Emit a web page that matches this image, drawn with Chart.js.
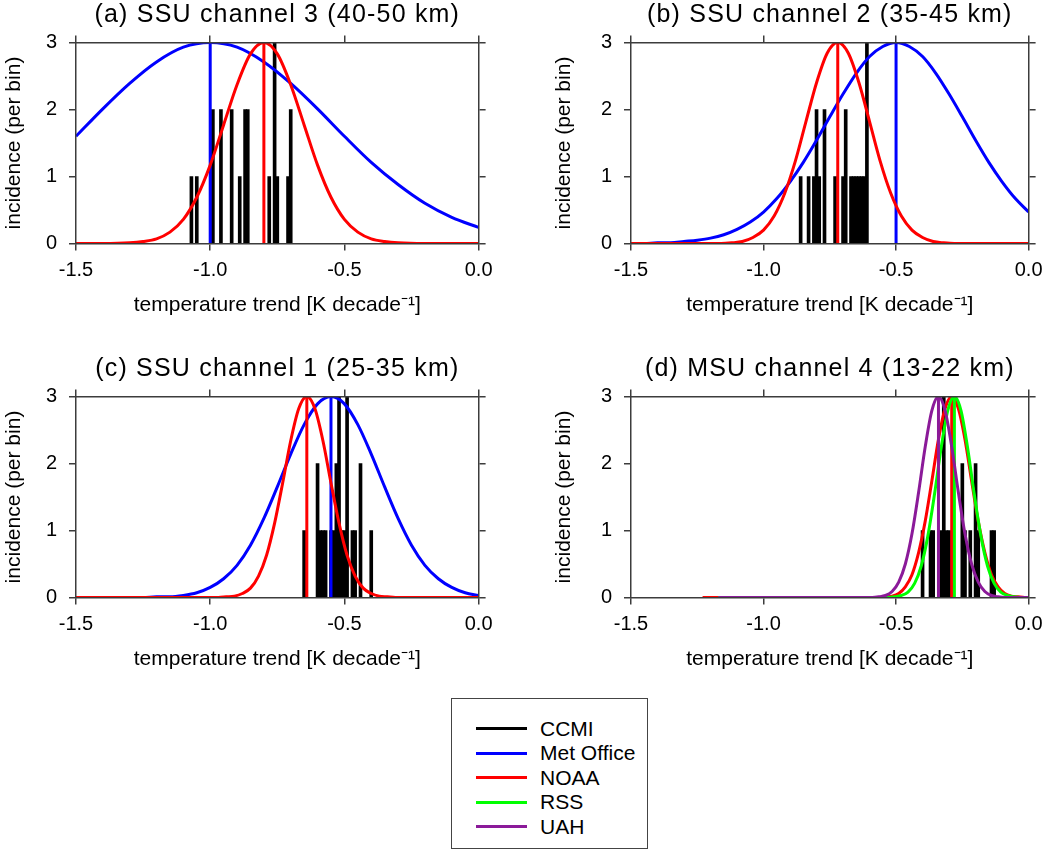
<!DOCTYPE html>
<html>
<head>
<meta charset="utf-8">
<title>Temperature trend distributions</title>
<script src="https://cdn.jsdelivr.net/npm/chart.js@4.4.1/dist/chart.umd.min.js"></script>
<style>
  html, body { margin: 0; padding: 0; background: #fff; overflow: hidden; }
  body { width: 1050px; height: 851px; position: relative; font-family: "Liberation Sans", Arial, sans-serif; }
  canvas.panel { position: absolute; }
  #legend { position: absolute; left: 451px; top: 698px; width: 197px; height: 151px; border: 1px solid #444; box-sizing: border-box; }
  #legend .item { position: absolute; left: 24px; height: 24px; display: flex; align-items: center; font-size: 21px; color: #000; }
  #legend .swatch { width: 51px; height: 3px; margin-right: 13px; }
</style>
</head>
<body>
<canvas id="pa" class="panel" width="500" height="330" style="left:0;top:0"></canvas>
<canvas id="pb" class="panel" width="500" height="330" style="left:550px;top:0"></canvas>
<canvas id="pc" class="panel" width="500" height="330" style="left:0;top:354px"></canvas>
<canvas id="pd" class="panel" width="500" height="330" style="left:550px;top:354px"></canvas>
<div id="legend"></div>
<script>
// panel titles and series
const panelTitles = ["(a) SSU channel 3 (40-50 km)", "(b) SSU channel 2 (35-45 km)",
                     "(c) SSU channel 1 (25-35 km)", "(d) MSU channel 4 (13-22 km)"];
const seriesNames = ["CCMI", "Met Office", "NOAA", "RSS", "UAH"];
const seriesColors = ["#000000", "#0000ff", "#ff0000", "#00ff00", "#8b1a99"];

// CCMI histograms: bin centre (K/decade) and number of models per bin
const ccmiA_x = [-1.07, -1.05, -0.99, -0.96, -0.92, -0.89, -0.87, -0.86, -0.78, -0.76, -0.75, -0.71, -0.70];
const ccmiA_n = [1, 1, 2, 2, 2, 1, 2, 2, 1, 3, 1, 1, 2];
const ccmiB_x = [-0.86, -0.83, -0.81, -0.80, -0.79, -0.77, -0.73, -0.70, -0.69, -0.67, -0.66, -0.65, -0.64, -0.63, -0.62, -0.61];
const ccmiB_n = [1, 1, 1, 2, 1, 2, 1, 1, 2, 1, 1, 1, 1, 1, 1, 3];
const ccmiC_x = [-0.65, -0.60, -0.59, -0.58, -0.57, -0.55, -0.54, -0.53, -0.52, -0.51, -0.50, -0.49, -0.47, -0.46, -0.44, -0.40];
const ccmiC_n = [1, 2, 1, 1, 1, 1, 1, 2, 3, 1, 1, 3, 1, 1, 2, 1];
const ccmiD_x = [-0.40, -0.37, -0.36, -0.33, -0.32, -0.31, -0.30, -0.25, -0.24, -0.22, -0.20, -0.19, -0.14, -0.13];
const ccmiD_n = [1, 1, 1, 1, 3, 1, 1, 2, 1, 1, 2, 1, 1, 1];

const metA_x = [-1.5, -1.4, -1.3, -1.2, -1.1, -1.0, -0.9, -0.8, -0.7, -0.6, -0.5, -0.4, -0.3, -0.2, -0.1, 0.0];
const metA_y = [1.60, 2.01, 2.39, 2.71, 2.93, 3.00, 2.93, 2.71, 2.39, 2.01, 1.60, 1.21, 0.88, 0.60, 0.39, 0.24];
const noaaA_x = [-1.5, -1.4, -1.3, -1.25, -1.2, -1.15, -1.1, -1.05, -1.0, -0.95, -0.9, -0.85, -0.8,
                 -0.75, -0.7, -0.65, -0.6, -0.55, -0.5, -0.45, -0.4, -0.35, -0.3, -0.2, -0.1, 0.0];
const noaaA_y = [0.00, 0.00, 0.01, 0.03, 0.07, 0.17, 0.36, 0.69, 1.17, 1.77, 2.37, 2.83, 3.00,
                 2.83, 2.37, 1.77, 1.17, 0.69, 0.36, 0.17, 0.07, 0.03, 0.01, 0.00, 0.00, 0.00];

const metB_x = [-1.5, -1.45, -1.4, -1.35, -1.3, -1.25, -1.2, -1.15, -1.1, -1.05, -1.0, -0.95, -0.9, -0.85, -0.8, -0.75,
                -0.7, -0.65, -0.6, -0.55, -0.5, -0.45, -0.4, -0.35, -0.3, -0.25, -0.2, -0.15, -0.1, -0.05, 0.0];
const metB_y = [0.00, 0.00, 0.01, 0.01, 0.03, 0.05, 0.08, 0.13, 0.21, 0.32, 0.47, 0.67, 0.92, 1.21, 1.54, 1.89,
                2.23, 2.54, 2.79, 2.94, 3.00, 2.94, 2.79, 2.54, 2.23, 1.89, 1.54, 1.21, 0.92, 0.67, 0.47];
const noaaB_x = [-1.5, -1.2, -1.16, -1.12, -1.08, -1.04, -1.0, -0.96, -0.92, -0.88, -0.84, -0.80, -0.76, -0.72,
                 -0.68, -0.64, -0.60, -0.56, -0.52, -0.48, -0.44, -0.40, -0.36, -0.32, -0.28, -0.2, 0.0];
const noaaB_y = [0.00, 0.00, 0.00, 0.01, 0.03, 0.09, 0.20, 0.41, 0.75, 1.23, 1.82, 2.40, 2.84, 3.00,
                 2.84, 2.40, 1.82, 1.23, 0.75, 0.41, 0.20, 0.09, 0.03, 0.01, 0.00, 0.00, 0.00];

const metC_x = metB_x;
const metC_y = [0.00, 0.00, 0.00, 0.00, 0.00, 0.00, 0.01, 0.01, 0.03, 0.07, 0.15, 0.28, 0.48, 0.78, 1.18, 1.65,
                2.14, 2.58, 2.89, 3.00, 2.89, 2.58, 2.14, 1.65, 1.18, 0.78, 0.48, 0.28, 0.15, 0.07, 0.03];
const noaaC_x = [-1.5, -1.0, -0.97, -0.94, -0.91, -0.88, -0.85, -0.82, -0.79, -0.76, -0.73, -0.70, -0.67, -0.64,
                 -0.61, -0.58, -0.55, -0.52, -0.49, -0.46, -0.43, -0.40, -0.37, -0.34, -0.31, -0.2, 0.0];
const noaaC_y = [0.00, 0.00, 0.00, 0.01, 0.02, 0.06, 0.14, 0.32, 0.63, 1.11, 1.71, 2.34, 2.82, 3.00,
                 2.82, 2.34, 1.71, 1.11, 0.63, 0.32, 0.14, 0.06, 0.02, 0.01, 0.00, 0.00, 0.00];

const noaaD_x = [-1.23, -0.565, -0.54, -0.515, -0.49, -0.465, -0.44, -0.415, -0.39, -0.365, -0.34, -0.315, -0.29,
                 -0.265, -0.24, -0.215, -0.19, -0.165, -0.14, -0.115, -0.09, -0.065, -0.04, -0.015, 0.0];
const noaaD_y = [0.00, 0.00, 0.01, 0.02, 0.06, 0.16, 0.34, 0.67, 1.14, 1.74, 2.36, 2.82, 3.00,
                 2.82, 2.36, 1.74, 1.14, 0.67, 0.34, 0.16, 0.06, 0.02, 0.01, 0.00, 0.00];
const rssD_x = [-1.17, -0.53, -0.505, -0.48, -0.455, -0.43, -0.405, -0.38, -0.355, -0.33, -0.305, -0.28,
                -0.255, -0.23, -0.205, -0.18, -0.155, -0.13, -0.105, -0.08, -0.055, -0.03, 0.0];
const rssD_y = [0.00, 0.00, 0.01, 0.03, 0.08, 0.21, 0.47, 0.92, 1.54, 2.23, 2.79, 3.00,
                2.79, 2.23, 1.54, 0.92, 0.47, 0.21, 0.08, 0.03, 0.01, 0.00, 0.00];
const uahD_x = [-1.17, -0.59, -0.565, -0.54, -0.515, -0.49, -0.465, -0.44, -0.415, -0.39, -0.365, -0.34,
                -0.315, -0.29, -0.265, -0.24, -0.215, -0.19, -0.165, -0.14, -0.115, -0.09, 0.0];
const uahD_y = [0.00, 0.00, 0.01, 0.03, 0.09, 0.23, 0.50, 0.95, 1.57, 2.25, 2.79, 3.00,
                2.79, 2.25, 1.57, 0.95, 0.50, 0.23, 0.09, 0.03, 0.01, 0.00, 0.00];

// mean trend of each dataset (vertical lines), per panel a-d
const metMean  = [-1.00, -0.50, -0.55, null];
const noaaMean = [-0.80, -0.72, -0.64, -0.29];
const rssMean  = [null, null, null, -0.28];
const uahMean  = [null, null, null, -0.34];

const FONT = '"Liberation Sans", Arial, Helvetica, sans-serif';
const FRAME = "#3c3c3c";

// the panel titles are set a little wider, like the original; scales are drawn
// after the datasets (z: 1), so the spacing only touches the title
const titleSpacing = {
    id: "titleSpacing",
    beforeDraw(chart) { chart.ctx.letterSpacing = "1.2px"; },
    beforeDatasetsDraw(chart) { chart.ctx.letterSpacing = "0px"; },
    afterDraw(chart) { chart.ctx.letterSpacing = "0px"; }
};

function pairs(xs, ys) {
    return xs.map((x, i) => ({ x: x, y: ys[i] }));
}

function vline(m) {
    return [{ x: m, y: 0 }, { x: m, y: 3 }];
}

function lineSet(data, color, order) {
    return {
        type: "line", data: data, borderColor: color, borderWidth: 3,
        pointRadius: 0, fill: false, cubicInterpolationMode: "monotone",
        order: order, xAxisID: "x", yAxisID: "y"
    };
}

function axisGrid() {
    return { drawOnChartArea: false, drawTicks: true, tickLength: 7, color: FRAME, lineWidth: 1.5, z: 1 };
}

function axisBorder() {
    return { display: true, color: FRAME, width: 1.5, z: 1 };
}

function makePanel(id, title, bins, curves, yAxisWidth, padRight) {
    const datasets = [{
        type: "bar", data: pairs(bins[0], bins[1]), backgroundColor: "#000",
        barThickness: 3, order: 10, xAxisID: "x", yAxisID: "y"
    }];
    curves.forEach(c => {
        const k = seriesNames.indexOf(c.name);
        const order = 6 - k;
        datasets.push(lineSet(pairs(c.x, c.y), seriesColors[k], order));
        if (c.mean !== null) datasets.push(lineSet(vline(c.mean), seriesColors[k], order));
    });

    const xBase = { type: "linear", min: -1.5, max: 0, offset: false };
    const yBase = { type: "linear", min: 0, max: 3 };

    return new Chart(document.getElementById(id), {
        type: "bar",
        data: { datasets: datasets },
        plugins: [titleSpacing],
        options: {
            responsive: false,
            animation: false,
            layout: { padding: { left: 0, right: padRight, top: 0, bottom: 0 } },
            plugins: {
                legend: { display: false },
                tooltip: { enabled: false },
                title: {
                    display: true, text: title, color: "#000", fullSize: false,
                    font: { family: FONT, size: 25, weight: "normal" },
                    padding: { top: 0, bottom: 4.5 }
                }
            },
            scales: {
                x: Object.assign({}, xBase, {
                    position: "bottom",
                    grid: Object.assign(axisGrid(), { offset: false }),
                    border: axisBorder(),
                    ticks: {
                        stepSize: 0.5, padding: 7.5, color: "#000", maxRotation: 0, autoSkip: false, z: 1,
                        font: { family: FONT, size: 20 },
                        callback: v => Number(v).toFixed(1)
                    },
                    title: {
                        display: true, text: "temperature trend [K decade\u207B\u00B9]", color: "#000",
                        font: { family: FONT, size: 21 }, padding: { top: 0, bottom: 12 }
                    },
                    afterFit: s => { s.height = 86.5; }
                }),
                xTop: Object.assign({}, xBase, {
                    position: "top",
                    grid: Object.assign(axisGrid(), { offset: false }),
                    border: axisBorder(),
                    ticks: { display: false, stepSize: 0.5, z: 1 },
                    afterFit: s => { s.height = 8; }
                }),
                y: Object.assign({}, yBase, {
                    position: "left",
                    grid: axisGrid(),
                    border: axisBorder(),
                    ticks: { stepSize: 1, padding: 12, color: "#000", z: 1, font: { family: FONT, size: 20 } },
                    title: {
                        display: true, text: "incidence (per bin)", color: "#000",
                        font: { family: FONT, size: 21 }, padding: { top: 1.4, bottom: 0 }
                    },
                    afterFit: s => { s.width = yAxisWidth; }
                }),
                yRight: Object.assign({}, yBase, {
                    position: "right",
                    grid: axisGrid(),
                    border: axisBorder(),
                    ticks: { display: false, stepSize: 1, z: 1 },
                    afterFit: s => { s.width = 8; }
                })
            }
        }
    });
}

makePanel("pa", panelTitles[0], [ccmiA_x, ccmiA_n], [
    { name: "Met Office", x: metA_x, y: metA_y, mean: metMean[0] },
    { name: "NOAA", x: noaaA_x, y: noaaA_y, mean: noaaMean[0] }
], 76, 12);

makePanel("pb", panelTitles[1], [ccmiB_x, ccmiB_n], [
    { name: "Met Office", x: metB_x, y: metB_y, mean: metMean[1] },
    { name: "NOAA", x: noaaB_x, y: noaaB_y, mean: noaaMean[1] }
], 81, 7);

makePanel("pc", panelTitles[2], [ccmiC_x, ccmiC_n], [
    { name: "Met Office", x: metC_x, y: metC_y, mean: metMean[2] },
    { name: "NOAA", x: noaaC_x, y: noaaC_y, mean: noaaMean[2] }
], 76, 12);

makePanel("pd", panelTitles[3], [ccmiD_x, ccmiD_n], [
    { name: "NOAA", x: noaaD_x, y: noaaD_y, mean: noaaMean[3] },
    { name: "RSS", x: rssD_x, y: rssD_y, mean: rssMean[3] },
    { name: "UAH", x: uahD_x, y: uahD_y, mean: uahMean[3] }
], 81, 7);

// legend box
const legend = document.getElementById("legend");
seriesNames.forEach((name, i) => {
    const item = document.createElement("div");
    item.className = "item";
    item.style.top = (17.5 + 24.6 * i) + "px";
    item.innerHTML = `<span class="swatch" style="background:${seriesColors[i]}"></span>${name}`;
    legend.appendChild(item);
});
</script>
</body>
</html>
